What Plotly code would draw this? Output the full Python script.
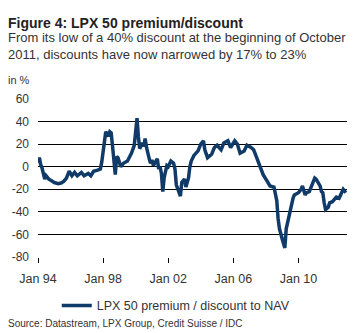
import plotly.graph_objects as go

dates = [
    "1994-01", "1994-02", "1994-03", "1994-04", "1994-05", "1994-06", "1994-07", "1994-09", "1994-11",
    "1995-01", "1995-04", "1995-06", "1995-08", "1995-10", "1995-11", "1995-12",
    "1996-02", "1996-04", "1996-06", "1996-09", "1996-11",
    "1997-02", "1997-04", "1997-06", "1997-09", "1997-11", "1997-12",
    "1998-01", "1998-02", "1998-03", "1998-04", "1998-05", "1998-06", "1998-07", "1998-08", "1998-09",
    "1998-10", "1998-11", "1998-12",
    "1999-02", "1999-04", "1999-07", "1999-09", "1999-10", "1999-12",
    "2000-01", "2000-02", "2000-03", "2000-04", "2000-06", "2000-07", "2000-08", "2000-09", "2000-11", "2000-12",
    "2001-01", "2001-02", "2001-03", "2001-05", "2001-06", "2001-07", "2001-08", "2001-09", "2001-10",
    "2001-11", "2001-12",
    "2002-01", "2002-03", "2002-05", "2002-06", "2002-07", "2002-08", "2002-10", "2002-11",
    "2003-01", "2003-02", "2003-03", "2003-04", "2003-05", "2003-06", "2003-08", "2003-11",
    "2004-01", "2004-03", "2004-04", "2004-06", "2004-09", "2004-11",
    "2005-01", "2005-04", "2005-06", "2005-09", "2005-11",
    "2006-02", "2006-04", "2006-06", "2006-09", "2006-11",
    "2007-02", "2007-04", "2007-05", "2007-07", "2007-09", "2007-11",
    "2008-02", "2008-04", "2008-07", "2008-08", "2008-09", "2008-10", "2008-11",
    "2009-01", "2009-02", "2009-03", "2009-04", "2009-06", "2009-07", "2009-08", "2009-09", "2009-10",
    "2010-01", "2010-03", "2010-04", "2010-06", "2010-07", "2010-09", "2010-12",
    "2011-01", "2011-02", "2011-05", "2011-06", "2011-07", "2011-08", "2011-09", "2011-11", "2011-12",
    "2012-02", "2012-05", "2012-07", "2012-10", "2012-12",
]

premium = [
    3.5, 8, 2, -1, -6, -11, -8, -11, -12.5,
    -14, -15, -14.5, -13, -10, -7, -4,
    -8, -5, -8, -5, -8,
    -6, -8, -4, -3, -2, 4,
    14, 25, 31, 29, 27, 31, 30, 18, 2,
    -7, 9, 8,
    0, 3, 5, 10, 12, 19,
    30, 43, 27, 16, 21, 18, 25, 17, 7, 3,
    6, 1, 3, 7, -2, 0, -6, -22, -10,
    -5, 1,
    0, 5, 3, -2, -16, -20, -26, -14,
    -11, -18, -14, -10, 0, 5, 10, 14,
    20, 23, 15, 8, 11, 17,
    19, 15, 21, 23, 17,
    23, 20, 12, 14, 19,
    17, 15, 12, 6, -1, -7,
    -13, -17, -18, -24, -30, -46, -55,
    -64, -69, -72, -55, -43, -39, -32, -28, -25,
    -23, -20, -17, -25, -23, -22, -14,
    -10, -11, -17, -22, -23, -32, -38, -36, -32,
    -31, -27, -28, -20, -23,
]

y_tick_vals = [-80, -60, -40, -20, 0, 20, 40, 60]
y_tick_text = ["-80", "-60", "-40", "-20", "0", "20", "40", "60"]

series_name = "LPX 50 premium / discount to NAV"
title = "<b>Figure 4: LPX 50 premium/discount</b>"
subtitle = "From its low of a 40% discount at the beginning of October<br>2011, discounts have now narrowed by 17% to 23%"
unit_label = "in %"
source = "Source: Datastream, LPX Group, Credit Suisse / IDC"

W, H = 359, 333
ML, MR, MT, MB = 34, 12, 99, 75
PW, PH = W - ML - MR, H - MT - MB


def px(x):
    return (x - ML) / PW


def py(y):
    return (H - MB - y) / PH


FONT = "Liberation Sans, Arial, sans-serif"
TXT = "#333333"
LINE = "#103a68"

fig = go.Figure()
fig.add_trace(go.Scatter(
    x=dates, y=premium, mode="lines", name=series_name,
    line=dict(color=LINE, width=3.5), showlegend=True,
))

fig.update_layout(
    width=W, height=H,
    margin=dict(l=ML, r=MR, t=MT, b=MB, pad=0),
    paper_bgcolor="white", plot_bgcolor="white",
    font=dict(family=FONT, color=TXT, size=12),
    showlegend=True,
    legend=dict(orientation="h", x=px(53), y=py(292), xanchor="left", yanchor="top",
                font=dict(size=12.5, color=TXT), bgcolor="rgba(0,0,0,0)",
                itemwidth=30, tracegroupgap=0),
    xaxis=dict(
        type="date", range=["1994-01-01", "2012-12-25"],
        tick0="1994-01-01", dtick="M48", tickformat="Jan %y",
        ticks="outside", ticklen=5, tickcolor="black", tickwidth=1,
        showgrid=False, showline=False, zeroline=False,
        tickfont=dict(size=12.5, color=TXT), ticklabelstandoff=5,
    ),
    yaxis=dict(
        range=[-80, 60], tickvals=y_tick_vals, ticktext=y_tick_text,
        showgrid=True, gridcolor="black", gridwidth=1,
        zeroline=False, showline=False, ticks="",
        tickfont=dict(size=12, color=TXT), ticklabelstandoff=8,
    ),
    annotations=[
        dict(text=title, x=px(2), y=py(12), xref="paper", yref="paper", xanchor="left", yanchor="top",
             showarrow=False, font=dict(size=14, color="#222222")),
        dict(text=subtitle, x=px(2), y=py(28), xref="paper", yref="paper", xanchor="left", yanchor="top",
             showarrow=False, align="left", font=dict(size=13, color="#333333")),
        dict(text=unit_label, x=px(2), y=py(72), xref="paper", yref="paper", xanchor="left", yanchor="top",
             showarrow=False, font=dict(size=11, color=TXT)),
        dict(text=source, x=px(2), y=py(317), xref="paper", yref="paper", xanchor="left", yanchor="top",
             showarrow=False, font=dict(size=10, color=TXT)),
    ],
)

fig.write_html("out.html")
